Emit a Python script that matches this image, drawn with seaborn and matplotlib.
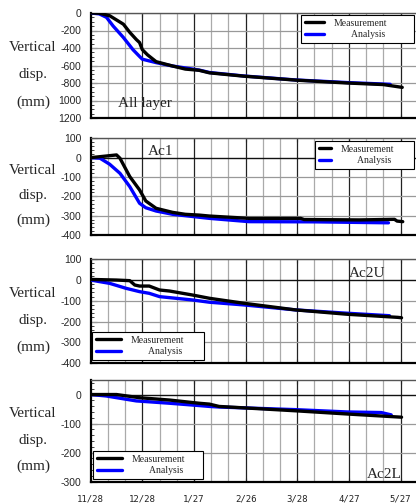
import numpy as np
import pandas as pd
import matplotlib
matplotlib.use("Agg")
import matplotlib.pyplot as plt
from matplotlib.ticker import MultipleLocator
import seaborn as sns

sns.set_style("white")
plt.rcParams['font.family'] = ['Liberation Serif', 'DejaVu Serif']

# ---------------- data (days since 11/28, settlement in mm) ----------------
xtick_days = [0, 30, 60, 90, 120, 150, 180]
xtick_labels = ["11/28", "12/28", "1/27", "2/26", "3/28", "4/27", "5/27"]

all_meas_x = [0, 5, 11, 19, 22.7, 26.5, 28.4, 30, 33, 38, 47.6, 55, 63, 69, 89, 119, 149, 170, 181]
all_meas_y = [0, -3, -31, -128, -221, -303, -338, -419, -478, -556, -606, -641, -655, -684, -722, -767, -800, -818, -850]
all_ana_x = [0, 5, 9.2, 13, 19, 24.6, 28.4, 30, 38, 47.6, 63, 69, 89, 119, 149, 174]
all_ana_y = [0, -10, -50, -148, -280, -420, -497, -528, -567, -606, -652, -680, -720, -765, -795, -815]

ac1_meas_x = [0, 5.4, 15, 17, 22.7, 28.4, 32, 38, 47.6, 55, 63, 69, 92, 122, 124, 156, 176.5, 178, 181.3]
ac1_meas_y = [0, 5, 14, -3, -98, -167, -224, -262, -283, -293, -297, -302, -314, -314, -320, -322, -319, -328, -331]
ac1_ana_x = [0, 5.4, 11, 17, 22.7, 28.4, 32, 38, 47.6, 69, 92, 130, 173]
ac1_ana_y = [0, -3, -34, -81, -150, -236, -259, -276, -293, -314, -331, -332, -337]

ac2u_meas_x = [0, 15, 22.7, 25.6, 28.4, 34, 40, 45.8, 59, 69, 89, 119, 149, 178.5, 180.6]
ac2u_meas_y = [3, 0, -3, -24, -29, -29, -48, -53, -72, -88, -112, -144, -165, -180, -182]
ac2u_ana_x = [0, 5.4, 11, 20.6, 28.4, 34, 40, 59, 69, 89, 119, 149, 173.6]
ac2u_ana_y = [0, -8, -16, -40, -56, -64, -80, -96, -107, -120, -144, -160, -172]

ac2l_meas_x = [0, 15, 28.4, 45.8, 63, 69, 74.6, 119, 149, 180.6]
ac2l_meas_y = [0, 0, -11, -19, -30, -33, -41, -56, -67, -78]
ac2l_ana_x = [0, 9, 26.5, 45.8, 63, 69, 74.6, 119, 149, 168.8, 174.6]
ac2l_ana_y = [0, -5, -22, -30, -38, -41, -43, -52, -60, -62, -70]

W, H = 416, 504
fig = plt.figure(figsize=(W / 100, H / 100), dpi=100)

left_px, right_px = 90.7, 416
panels = [
    dict(top=13, bot=118, ylim=(-1200, 0),
         yt=[0, -200, -400, -600, -800, -1000, -1200],
         ytl=["0", "-200", "-400", "-600", "-800", "1000", "1200"], minor=50,
         mx=all_meas_x, my=all_meas_y, ax_=all_ana_x, ay=all_ana_y,
         title="All layer", tpos=(0.084, 0.08),
         leg=dict(loc="upper left", bbox=(0.646, 0.60, 0.348, 0.381), hl=2.0)),
    dict(top=138.3, bot=235, ylim=(-400, 100),
         yt=[100, 0, -100, -200, -300, -400],
         ytl=["100", "0", "-100", "-200", "-300", "-400"], minor=20,
         mx=ac1_meas_x, my=ac1_meas_y, ax_=ac1_ana_x, ay=ac1_ana_y,
         title="Ac1", tpos=(0.175, 0.80),
         leg=dict(loc="upper left", bbox=(0.69, 0.55, 0.304, 0.422), hl=1.2)),
    dict(top=259.3, bot=363, ylim=(-400, 100),
         yt=[100, 0, -100, -200, -300, -400],
         ytl=["100", "0", "-100", "-200", "-300", "-400"], minor=20,
         mx=ac2u_meas_x, my=ac2u_meas_y, ax_=ac2u_ana_x, ay=ac2u_ana_y,
         title="Ac2U", tpos=(0.795, 0.80),
         leg=dict(loc="lower left", bbox=(0.003, 0.029, 0.345, 0.3), hl=2.6)),
    dict(top=380, bot=481.7, ylim=(-300, 50),
         yt=[0, -100, -200, -300],
         ytl=["0", "-100", "-200", "-300"], minor=20,
         mx=ac2l_meas_x, my=ac2l_meas_y, ax_=ac2l_ana_x, ay=ac2l_ana_y,
         title="Ac2L", tpos=(0.85, 0.01),
         leg=dict(loc="lower left", bbox=(0.006, 0.027, 0.339, 0.3), hl=2.6)),
]

for i, p in enumerate(panels):
    ax = fig.add_axes([left_px / W, 1 - p["bot"] / H,
                       (right_px - left_px) / W, (p["bot"] - p["top"]) / H])
    ax.set_xlim(0, 189)
    ax.set_ylim(*p["ylim"])
    for d in range(10, 189, 10):
        if d % 30 == 0:
            ax.axvline(d, color="#222222", lw=0.9, zorder=1)
        else:
            ax.axvline(d, color="#aaaaaa", lw=0.9, zorder=1)
    for v in p["yt"]:
        if v == 0 and i > 0:
            ax.axhline(v, color="#111111", lw=1.0, zorder=1)
        else:
            ax.axhline(v, color="#999999", lw=0.9, zorder=1)

    dm = pd.DataFrame({"day": p["mx"], "disp": p["my"]})
    da = pd.DataFrame({"day": p["ax_"], "disp": p["ay"]})
    sns.lineplot(data=da, x="day", y="disp", ax=ax, color="#0000ff", lw=2.4,
                 label="Analysis", zorder=3, estimator=None, sort=False)
    sns.lineplot(data=dm, x="day", y="disp", ax=ax, color="black", lw=2.4,
                 label="Measurement", zorder=4, estimator=None, sort=False)

    ax.set_xlabel("")
    ax.set_ylabel("")
    ax.set_yticks(p["yt"])
    ax.set_yticklabels(p["ytl"], family=["Liberation Sans"], fontsize=7.5)
    ax.yaxis.set_minor_locator(MultipleLocator(p["minor"]))
    ax.tick_params(axis="y", which="major", direction="in", length=4, width=0.8, pad=6.5, left=True)
    ax.tick_params(axis="y", which="minor", direction="in", length=2, width=0.6, left=True)
    ax.set_xticks(xtick_days)
    ax.tick_params(axis="x", which="major", direction="in", length=3, width=0.8,
                   top=True, bottom=True, pad=9)
    if i == 3:
        ax.set_xticklabels(xtick_labels, family=["DejaVu Sans Mono"], fontsize=6.5,
                           color="#222222")
    else:
        ax.set_xticklabels([])
    for s in ["left", "bottom"]:
        ax.spines[s].set_color("black")
        ax.spines[s].set_linewidth(1.6)
    ax.spines["top"].set_color("#555555")
    ax.spines["top"].set_linewidth(1.0)
    ax.spines["right"].set_visible(False)

    ax.text(p["tpos"][0], p["tpos"][1], p["title"], transform=ax.transAxes,
            fontsize=11, ha="left", va="bottom", zorder=6)

    h, l = ax.get_legend_handles_labels()
    order = [1, 0]
    leg = ax.legend([h[k] for k in order], ["Measurement", "       Analysis"],
                    loc=p["leg"]["loc"], bbox_to_anchor=p["leg"]["bbox"], mode="expand",
                    fontsize=7, frameon=True, fancybox=False, framealpha=1,
                    edgecolor="black", borderpad=0.4, labelspacing=0.25,
                    handlelength=p["leg"]["hl"], handletextpad=1.0, borderaxespad=0)
    leg.get_frame().set_linewidth(0.8)
    leg.set_zorder(10)

    hpx = p["bot"] - p["top"]
    for j, txt in enumerate(["Vertical", "disp.", "(mm)"]):
        fig.text(33 / W, 1 - (p["top"] + hpx * (0.33 + 0.26 * j)) / H, txt,
                 fontsize=11, ha="center", va="center")

fig.savefig("out.png", dpi=100)
